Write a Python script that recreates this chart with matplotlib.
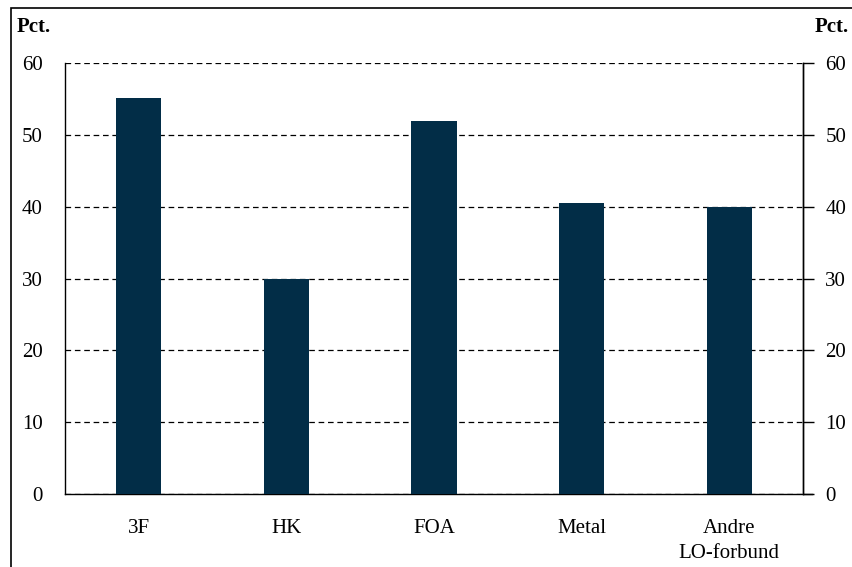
import matplotlib
matplotlib.use("Agg")
import matplotlib.pyplot as plt
from matplotlib.patches import Rectangle

categories = ["3F", "HK", "FOA", "Metal", "Andre\nLO-forbund"]
values = [55.1, 30.0, 51.9, 40.5, 39.9]
yticks = [0, 10, 20, 30, 40, 50, 60]

BAR_COLOR = "#022d47"
FS = 15
plt.rcParams["font.family"] = "Liberation Serif"

fig = plt.figure(figsize=(8.53, 5.67), dpi=100)
W, H = 853, 567
ax = fig.add_axes([65 / W, 1 - 494 / H, (803 - 65) / W, (494 - 63) / H])

x = list(range(len(categories)))
ax.bar(x, values, width=0.305, color=BAR_COLOR, zorder=3)

ax.set_xlim(-0.5, len(categories) - 0.5)
ax.set_ylim(0, 60)
ax.set_yticks(yticks)
ax.yaxis.grid(True, linestyle=(0, (4.5, 3)), color="black", linewidth=0.9, zorder=1)
ax.set_xticks(x)
ax.set_xticklabels(categories, fontsize=FS, linespacing=1.45)
ax.tick_params(axis="x", length=0, pad=18)
ax.tick_params(axis="y", left=False, labelleft=True, right=False, length=0,
               labelsize=FS, pad=16)

ax.spines["top"].set_visible(False)
for s in ["left", "right", "bottom"]:
    ax.spines[s].set_linewidth(1.0)
ax.spines["bottom"].set_bounds(-0.5, 4.56)

ax2 = ax.twinx()
ax2.set_ylim(0, 60)
ax2.set_yticks(yticks)
ax2.tick_params(axis="y", direction="out", length=8, width=1.0, labelsize=FS, pad=8)
for s in ["top", "left", "bottom"]:
    ax2.spines[s].set_visible(False)
ax2.spines["right"].set_linewidth(1.0)

fig.text(17 / W, 1 - 27 / H, "Pct.", fontsize=FS, fontweight="bold",
         ha="left", va="center")
fig.text(849 / W, 1 - 27 / H, "Pct.", fontsize=FS, fontweight="bold",
         ha="right", va="center")

# outer frame (only left and top edges fall inside the image)
fig.patches.append(Rectangle((11.5 / W, -0.1), 1.2, 1.1 - 7.5 / H,
                             transform=fig.transFigure, fill=False,
                             edgecolor="black", linewidth=1.2))

fig.savefig("out.png", dpi=100)
